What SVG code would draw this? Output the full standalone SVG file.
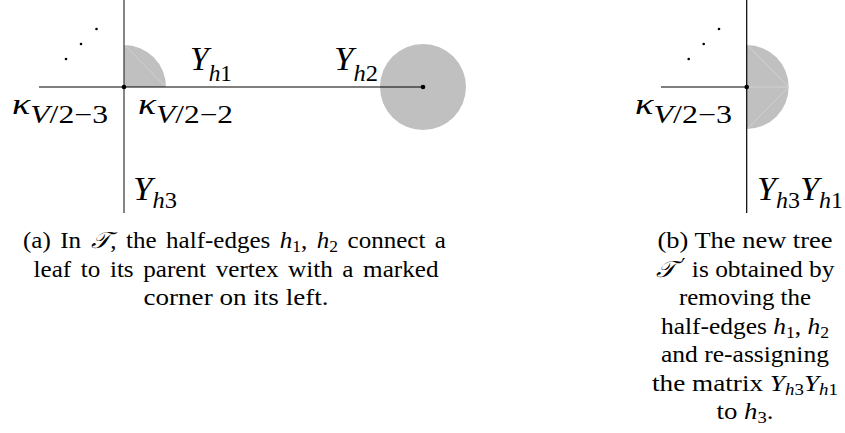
<svg xmlns="http://www.w3.org/2000/svg" width="845" height="433" viewBox="0 0 845 433">
<style>
.ln{stroke:#000;stroke-width:1.2;fill:none}
.lg{stroke:#444;stroke-width:1.3;fill:none}
.sh{fill:#c0c0c0}
.tri{stroke:#d4d4d4;stroke-width:0.8;fill:none}
.m{font-family:'Liberation Serif','Times New Roman','DejaVu Serif',serif;font-size:33px;fill:#000}
.it{font-style:italic}
.sub{font-size:23px}
.cap{font-family:'Liberation Serif','Times New Roman','DejaVu Serif',serif;font-size:23px;fill:#000;text-anchor:middle}
.cs{font-size:16px}
.pr{font-family:'DejaVu Serif','DejaVu Sans',serif;font-size:18px}
</style>
<g id="connectors">
<g id="left-tree">
<path class="sh" d="M124,87 L124,45 A42,42 0 0 1 166,87 Z"/>
<line class="tri" x1="124.5" y1="45" x2="166" y2="87"/>
<circle class="sh" cx="423" cy="87" r="43"/>
<line class="ln" x1="39" y1="87" x2="423" y2="87"/>
<line class="lg" x1="124" y1="0" x2="124" y2="213"/>
</g>
<g id="right-tree">
<path class="sh" d="M746.7,45 A42,42 0 0 1 746.7,129 Z"/>
<line class="tri" x1="747" y1="45" x2="788.7" y2="87"/>
<line class="tri" x1="747" y1="87" x2="788.7" y2="87"/>
<line class="tri" x1="747" y1="129" x2="788.7" y2="87"/>
<line class="ln" x1="661" y1="87" x2="746.7" y2="87"/>
<line class="ln" x1="746.7" y1="0" x2="746.7" y2="213"/>
</g>
</g>
<g id="vertex-left"><circle cx="124" cy="87" r="2.3" fill="#000"/></g>
<g id="leaf"><circle cx="423" cy="87" r="2.3" fill="#000"/></g>
<g id="vertex-right"><circle cx="746.7" cy="87" r="2.3" fill="#000"/></g>
<g id="dots-left" fill="#000">
<circle cx="66" cy="59" r="1.3"/><circle cx="81" cy="44" r="1.3"/><circle cx="96.5" cy="29" r="1.3"/>
</g>
<g id="dots-right" fill="#000">
<circle cx="688.7" cy="59" r="1.3"/><circle cx="703.7" cy="44" r="1.3"/><circle cx="719" cy="29" r="1.3"/>
</g>
<g id="labels-left">
<text class="m" x="190" y="70" textLength="42" lengthAdjust="spacingAndGlyphs"><tspan class="it">Y</tspan><tspan class="it sub" dy="11">h</tspan><tspan class="sub">1</tspan></text>
<text class="m" x="334" y="70" textLength="44" lengthAdjust="spacingAndGlyphs"><tspan class="it">Y</tspan><tspan class="it sub" dy="11">h</tspan><tspan class="sub">2</tspan></text>
<text class="m" x="12" y="114" textLength="96" lengthAdjust="spacingAndGlyphs"><tspan class="it" font-size="30">κ</tspan><tspan class="it" font-size="25" dy="9">V</tspan><tspan font-size="25">/2−3</tspan></text>
<text class="m" x="138" y="114" textLength="95" lengthAdjust="spacingAndGlyphs"><tspan class="it" font-size="30">κ</tspan><tspan class="it" font-size="25" dy="9">V</tspan><tspan font-size="25">/2−2</tspan></text>
<text class="m" x="133" y="200" textLength="44" lengthAdjust="spacingAndGlyphs"><tspan class="it">Y</tspan><tspan class="it sub" dy="8">h</tspan><tspan class="sub">3</tspan></text>
</g>
<g id="labels-right">
<text class="m" x="635" y="114" textLength="97" lengthAdjust="spacingAndGlyphs"><tspan class="it" font-size="30">κ</tspan><tspan class="it" font-size="25" dy="9">V</tspan><tspan font-size="25">/2−3</tspan></text>
<text class="m" x="757" y="200" textLength="86" lengthAdjust="spacingAndGlyphs"><tspan class="it">Y</tspan><tspan class="it sub" dy="8">h</tspan><tspan class="sub">3</tspan><tspan class="it" dy="-8">Y</tspan><tspan class="it sub" dy="8">h</tspan><tspan class="sub">1</tspan></text>
</g>
<g id="caption-a">
<text class="cap" x="234.5" y="248" word-spacing="3" textLength="423" lengthAdjust="spacingAndGlyphs">(a) In <tspan class="it">𝒯</tspan>, the half-edges <tspan class="it">h</tspan><tspan class="cs" dy="4">1</tspan><tspan dy="-4">, </tspan><tspan class="it">h</tspan><tspan class="cs" dy="4">2</tspan><tspan dy="-4"> connect a</tspan></text>
<text class="cap" x="236" y="276.5" word-spacing="3" textLength="405" lengthAdjust="spacingAndGlyphs">leaf to its parent vertex with a marked</text>
<text class="cap" x="236" y="305" textLength="185" lengthAdjust="spacingAndGlyphs">corner on its left.</text>
</g>
<g id="caption-b">
<text class="cap" x="745" y="248" textLength="175" lengthAdjust="spacingAndGlyphs">(b) The new tree</text>
<text class="cap" x="745" y="276.5" textLength="179" lengthAdjust="spacingAndGlyphs"><tspan class="it">𝒯</tspan><tspan class="pr" dx="5" dy="-5">′</tspan><tspan dy="5"> is obtained by</tspan></text>
<text class="cap" x="745" y="305" textLength="132" lengthAdjust="spacingAndGlyphs">removing the</text>
<text class="cap" x="745" y="333.5" textLength="168" lengthAdjust="spacingAndGlyphs">half-edges <tspan class="it">h</tspan><tspan class="cs" dy="4">1</tspan><tspan dy="-4">, </tspan><tspan class="it">h</tspan><tspan class="cs" dy="4">2</tspan></text>
<text class="cap" x="745" y="362" textLength="168" lengthAdjust="spacingAndGlyphs">and re-assigning</text>
<text class="cap" x="745" y="390.5" textLength="186" lengthAdjust="spacingAndGlyphs">the matrix <tspan class="it">Y</tspan><tspan class="it cs" dy="4">h</tspan><tspan class="cs">3</tspan><tspan class="it" dy="-4">Y</tspan><tspan class="it cs" dy="4">h</tspan><tspan class="cs">1</tspan></text>
<text class="cap" x="745" y="419" textLength="57" lengthAdjust="spacingAndGlyphs">to <tspan class="it">h</tspan><tspan class="cs" dy="4">3</tspan><tspan dy="-4">.</tspan></text>
</g>
</svg>
